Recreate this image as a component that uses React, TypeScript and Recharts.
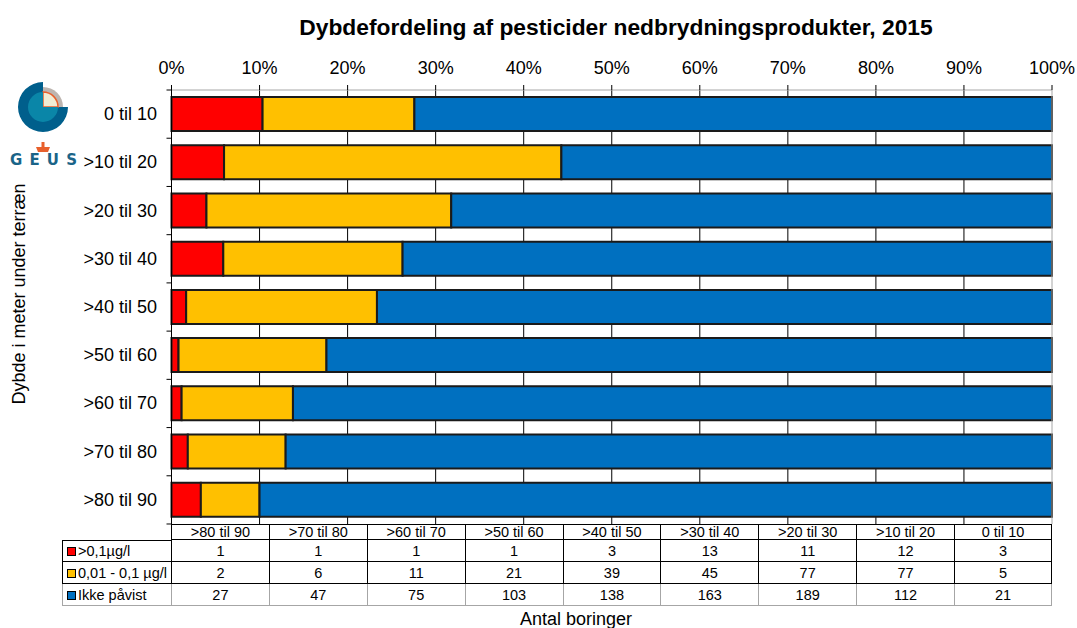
import { BarChart, Bar, XAxis, YAxis, CartesianGrid, ReferenceLine } from 'recharts';

const TITLE = 'Dybdefordeling af pesticider nedbrydningsprodukter, 2015';
const DEPTHS = ['0 til 10', '>10 til 20', '>20 til 30', '>30 til 40', '>40 til 50', '>50 til 60', '>60 til 70', '>70 til 80', '>80 til 90'];
const HIGH = [3, 12, 11, 13, 3, 1, 1, 1, 1];
const LOW = [5, 77, 77, 45, 39, 21, 11, 6, 2];
const NONE = [21, 112, 189, 163, 138, 103, 75, 47, 27];
const PERCENT_TICKS = [0, 0.1, 0.2, 0.3, 0.4, 0.5, 0.6, 0.7, 0.8, 0.9, 1];
const GRID_TICKS = [0.1, 0.2, 0.3, 0.4, 0.5, 0.6, 0.7, 0.8, 0.9];

const SERIES = [
  { key: 'high', name: '>0,1µg/l', color: '#ff0000', values: HIGH },
  { key: 'low', name: '0,01 - 0,1 µg/l', color: '#ffc000', values: LOW },
  { key: 'none', name: 'Ikke påvist', color: '#0070c0', values: NONE },
];

const chartData = DEPTHS.map((depth, i) => ({
  depth,
  high: HIGH[i],
  low: LOW[i],
  none: NONE[i],
}));

const FONT = '"Liberation Sans", Arial, sans-serif';
const GREY = '#a6a6a6';
const AXIS_X = 171.5;
const BAND = 48.2;

// category ticks sit on the band borders, not the band centres
function DepthTick({ y, index, payload }: any) {
  return (
    <g>
      <line x1={AXIS_X - 5} x2={AXIS_X} y1={y - BAND / 2} y2={y - BAND / 2} stroke="#000" />
      {index === DEPTHS.length - 1 && <line x1={AXIS_X - 5} x2={AXIS_X} y1={y + BAND / 2} y2={y + BAND / 2} stroke="#000" />}
      <text x={157} y={y + 6} textAnchor="end" fontSize={18} fontFamily={FONT} fill="#000">
        {payload.value}
      </text>
    </g>
  );
}

function Logo() {
  return (
    <svg width="90" height="120" style={{ position: 'absolute', left: 0, top: 53 }}>
      <path d="M43 29 A25 25 0 1 0 68 54 L43 54 Z" fill="#005f8c" />
      <path d="M43 34 A20 20 0 0 1 63 54 L43 54 Z" fill="#bdb5b0" />
      <path d="M43 39 A15 15 0 0 1 58 54 L43 54 Z" fill="#f0ecd4" stroke="#e8602c" strokeWidth="1.5" />
      <path d="M43 39 A15 15 0 1 0 58 54 L43 54 Z" fill="#0a86a8" />
      <path d="M36 94 h5.5 v-5 h3 v5 h5.5 l-2 5 h-10 Z" fill="#e8602c" />
      <text x="10" y="112" fontFamily='"DejaVu Sans", sans-serif' fontWeight="700" fontSize="15" textLength="67" fill="#1a6488">
        GEUS
      </text>
    </svg>
  );
}

function DataTable() {
  const columns = DEPTHS.map((_, i) => DEPTHS.length - 1 - i);
  const cell = (last: boolean, extra = {}) => ({
    borderLeft: `1px solid ${last ? GREY : '#000'}`,
    borderBottom: `1px solid ${last ? GREY : '#000'}`,
    padding: 0,
    textAlign: 'center' as const,
    ...extra,
  });
  return (
    <table
      style={{
        position: 'absolute',
        left: 62,
        top: 524,
        width: 990,
        tableLayout: 'fixed',
        borderCollapse: 'separate',
        borderSpacing: 0,
        fontFamily: FONT,
        fontSize: 14.5,
        color: '#000',
      }}
    >
      <colgroup>
        <col style={{ width: 109 }} />
        {columns.map((c) => (
          <col key={c} style={{ width: 97.89 }} />
        ))}
      </colgroup>
      <tbody>
        <tr style={{ height: 16 }}>
          <td />
          {columns.map((c, i) => (
            <td
              key={c}
              style={cell(false, {
                borderTop: '1px solid #000',
                borderRight: i === columns.length - 1 ? '1px solid #000' : undefined,
                lineHeight: '14px',
              })}
            >
              {DEPTHS[c]}
            </td>
          ))}
        </tr>
        {SERIES.map((s, row) => {
          const last = row === SERIES.length - 1;
          return (
            <tr key={s.key} style={{ height: 22 }}>
              <td style={cell(last, { textAlign: 'left', whiteSpace: 'nowrap', borderTop: row === 0 ? '1px solid #000' : undefined })}>
                <span
                  style={{
                    display: 'inline-block',
                    width: 7,
                    height: 7,
                    margin: '0 2px 0 4px',
                    background: s.color,
                    border: '1px solid #000',
                  }}
                />
                {s.name}
              </td>
              {columns.map((c, i) => (
                <td
                  key={c}
                  style={cell(last, {
                    borderRight: i === columns.length - 1 ? `1px solid ${last ? GREY : '#000'}` : undefined,
                  })}
                >
                  {s.values[c]}
                </td>
              ))}
            </tr>
          );
        })}
      </tbody>
    </table>
  );
}

export default function App() {
  return (
    <div style={{ position: 'absolute', left: 0, top: 0, width: 1077, height: 628, background: '#fff', fontFamily: FONT, overflow: 'hidden' }}>
      <div style={{ position: 'absolute', left: 616, top: 27, transform: 'translate(-50%, -50%)', fontSize: 22.8, fontWeight: 700, whiteSpace: 'nowrap', color: '#000' }}>
        {TITLE}
      </div>

      <BarChart
        width={1077}
        height={628}
        data={chartData}
        layout="vertical"
        stackOffset="expand"
        barSize={34}
        margin={{ top: 60.5, right: 25, bottom: 104, left: 0 }}
        style={{ position: 'absolute', left: 0, top: 0 }}
      >
        <CartesianGrid horizontal={false} verticalValues={GRID_TICKS} stroke="#000" strokeWidth={1} />
        <XAxis
          type="number"
          orientation="top"
          domain={[0, 1]}
          ticks={PERCENT_TICKS}
          interval={0}
          height={29.5}
          tickFormatter={(v: number) => `${Math.round(v * 100)}%`}
          tick={{ fill: '#000', fontSize: 18, fontFamily: FONT }}
          tickLine={{ stroke: '#000' }}
          tickSize={5}
          tickMargin={11}
          axisLine={{ stroke: GREY }}
        />
        <XAxis xAxisId="bottom" type="number" orientation="bottom" domain={[0, 1]} height={0} tick={false} tickLine={false} axisLine={{ stroke: GREY }} />
        <YAxis
          type="category"
          dataKey="depth"
          width={AXIS_X}
          tick={<DepthTick />}
          tickLine={false}
          axisLine={{ stroke: '#000' }}
          interval={0}
        />
        {SERIES.map((s) => (
          <Bar
            key={s.key}
            dataKey={s.key}
            name={s.name}
            stackId="depth"
            fill={s.color}
            stroke="#1a1a1a"
            strokeWidth={2}
            isAnimationActive={false}
          />
        ))}
        <ReferenceLine x={1} stroke={GREY} strokeWidth={1} />
      </BarChart>

      <Logo />

      <div
        style={{
          position: 'absolute',
          left: 19,
          top: 294,
          transform: 'translate(-50%, -50%) rotate(-90deg)',
          fontSize: 18,
          whiteSpace: 'nowrap',
        }}
      >
        Dybde i meter under terræn
      </div>

      <DataTable />

      <div style={{ position: 'absolute', left: 576, top: 619, transform: 'translate(-50%, -50%)', fontSize: 18, whiteSpace: 'nowrap' }}>
        Antal boringer
      </div>
    </div>
  );
}
